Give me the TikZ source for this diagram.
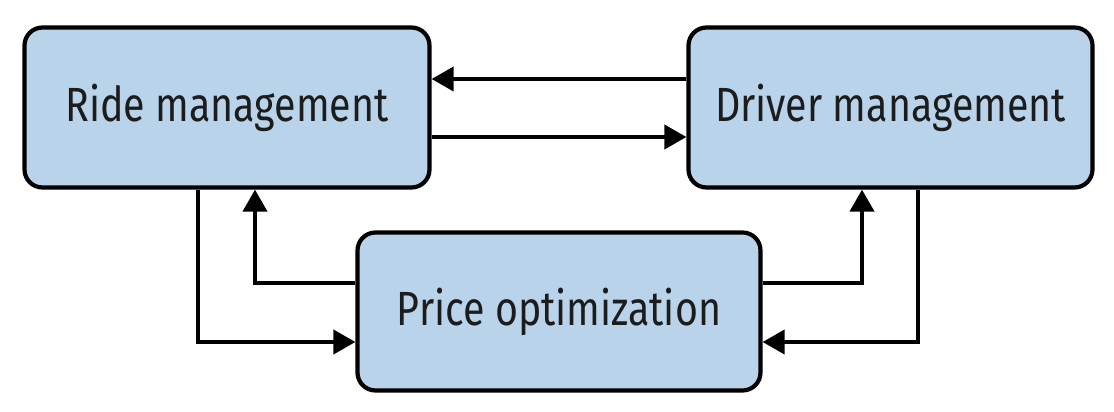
\documentclass[tikz,border=0pt]{standalone}
\usepackage{fontspec}
\setsansfont{Fira Sans}[FakeStretch=0.82]
\usetikzlibrary{arrows.meta}

\definecolor{boxblue}{HTML}{B9D4EA}
\definecolor{boxtext}{HTML}{1C1C1C}

\tikzset{
  service/.style={draw=black, line width=4.2pt, fill=boxblue, rounded corners=18pt,
    text=boxtext, font=\sffamily\fontsize{48}{52}\selectfont, inner sep=0pt},
  flow/.style={line width=4pt, -{Triangle[length=22pt,width=24pt]}},
}

\begin{document}
\begin{tikzpicture}[x=1pt,y=1pt]
% Frame
\useasboundingbox (0,0) rectangle (1114,412);

% Parameters
\def\topY{333};
\def\botY{275};
\def\outY{129};
\def\inY{70};

% Boxes
\node[service, minimum width=405pt, minimum height=160pt] (ride) at (227,304.5) {Ride management};
\node[service, minimum width=404pt, minimum height=160pt] (driver) at (890.5,304.5) {Driver management};
\node[service, minimum width=403pt, minimum height=158pt] (price) at (559,100.5) {Price optimization};

% Arrows between ride and driver
\draw[flow] (driver.west |- 0,\topY) -- (ride.east |- 0,\topY);
\draw[flow] (ride.east |- 0,\botY) -- (driver.west |- 0,\botY);

% Arrows to and from price
\draw[flow] (ride.south -| 198,0) |- (price.west |- 0,\inY);
\draw[flow] (price.west |- 0,\outY) -| (ride.south -| 255,0);
\draw[flow] (price.east |- 0,\outY) -| (driver.south -| 862,0);
\draw[flow] (driver.south -| 918,0) |- (price.east |- 0,\inY);

\end{tikzpicture}
\end{document}
